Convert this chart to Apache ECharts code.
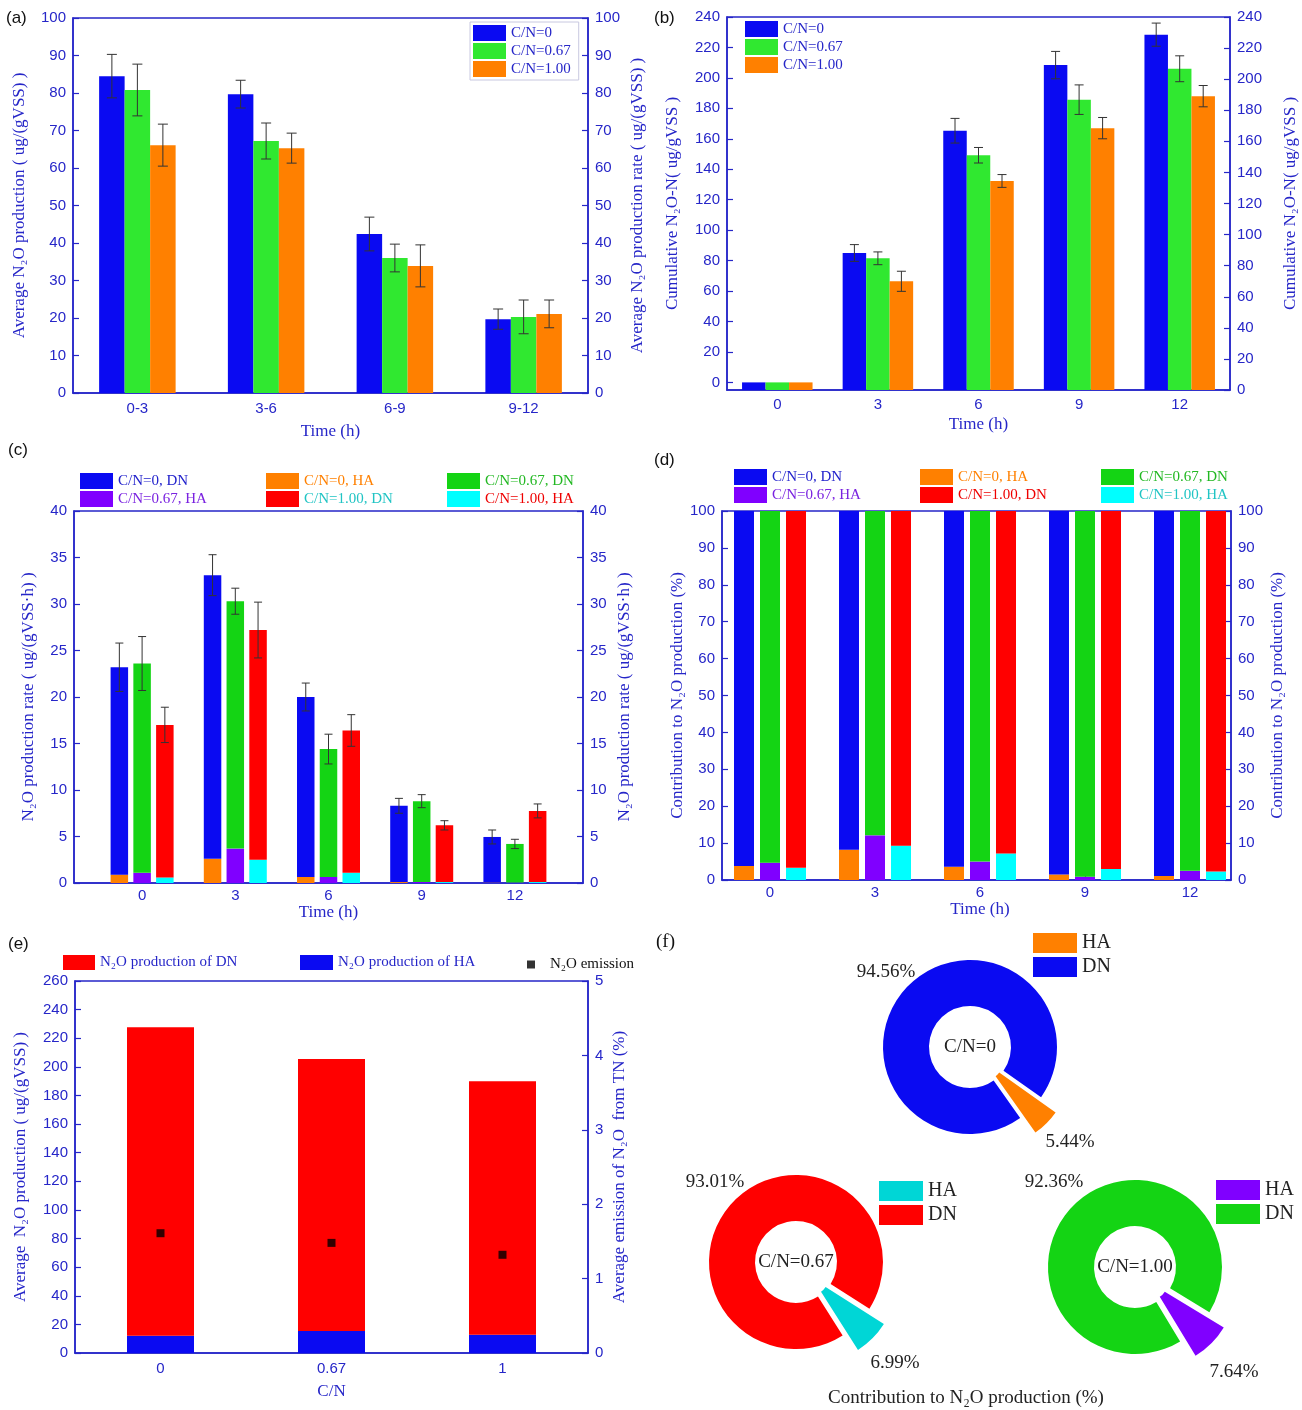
<!DOCTYPE html>
<html><head><meta charset="utf-8">
<script src="https://cdn.jsdelivr.net/npm/echarts@6/dist/echarts.min.js"></script>
<style>html,body{margin:0;padding:0;background:#fff}#c{width:1302px;height:1410px}</style>
</head><body><div id="c"></div><script>
// ---------------- DATA ----------------
// (a) average N2O production per period
const periodsA = ['0-3', '3-6', '6-9', '9-12'];
const groupNames = ['C/N=0', 'C/N=0.67', 'C/N=1.00'];
const avgA_cn0 = [84.5, 79.7, 42.4, 19.7];
const avgA_cn067 = [80.8, 67.2, 36.0, 20.3];
const avgA_cn1 = [66.1, 65.3, 33.9, 21.1];
const errA_cn0 = [5.8, 3.7, 4.5, 2.7];
const errA_cn067 = [6.9, 4.8, 3.7, 4.5];
const errA_cn1 = [5.6, 4.0, 5.6, 3.7];
// (b) cumulative N2O-N
const timesB = ['0', '3', '6', '9', '12'];
const cumB_cn0 = [0, 85.0, 165.3, 208.4, 228.4];
const cumB_cn067 = [0, 81.5, 149.2, 185.7, 206.0];
const cumB_cn1 = [0, 66.4, 132.3, 167.0, 188.0];
const errB_cn0 = [0, 5.5, 8.1, 9.0, 7.6];
const errB_cn067 = [0, 4.2, 5.1, 9.7, 8.5];
const errB_cn1 = [0, 6.6, 4.2, 7.0, 7.0];
// (c) N2O production rate, split HA / DN
const timesCD = ['0', '3', '6', '9', '12'];
const rateHA_cn0 = [0.9, 2.6, 0.65, 0.1, 0.05];
const rateDN_cn0 = [22.3, 30.5, 19.35, 8.2, 4.9];
const rateHA_cn067 = [1.1, 3.7, 0.65, 0.1, 0.05];
const rateDN_cn067 = [22.5, 26.6, 13.75, 8.7, 4.15];
const rateHA_cn1 = [0.6, 2.5, 1.1, 0.1, 0.1];
const rateDN_cn1 = [16.4, 24.7, 15.3, 6.1, 7.65];
const rateErr_cn0 = [2.6, 2.2, 1.5, 0.8, 0.75];
const rateErr_cn067 = [2.9, 1.4, 1.6, 0.7, 0.5];
const rateErr_cn1 = [1.9, 3.0, 1.7, 0.5, 0.75];
// (d) contribution (%)
const pctHA_cn0 = [3.8, 8.2, 3.6, 1.5, 1.1];
const pctDN_cn0 = [96.2, 91.8, 96.4, 98.5, 98.9];
const pctHA_cn067 = [4.7, 12.1, 5.0, 0.9, 2.5];
const pctDN_cn067 = [95.3, 87.9, 95.0, 99.1, 97.5];
const pctHA_cn1 = [3.3, 9.3, 7.2, 3.0, 2.3];
const pctDN_cn1 = [96.7, 90.7, 92.8, 97.0, 97.7];
// (e) average production and emission
const ratiosE = ['0', '0.67', '1'];
const prodHA_E = [12.1, 15.4, 12.8];
const prodDN_E = [215.5, 190.1, 177.2];
const emissionE = [1.61, 1.48, 1.32];
// (f) contribution pies
const pieLabels = ['C/N=0', 'C/N=0.67', 'C/N=1.00'];
const pieDN = [94.56, 93.01, 92.36];
const pieHA = [5.44, 6.99, 7.64];

// ---------------- STYLE ----------------
const AX = '#2626c8';
const SERIF = '"Liberation Serif","Times New Roman",serif';
const SANS = '"Liberation Sans",Arial,sans-serif';
const COL = {blue:'#0a0af2', greenA:'#30e830', green:'#14d414', orange:'#ff8000', red:'#ff0000',
  cyan:'#00ffff', purple:'#8000ff', pieCyan:'#00d6d6'};

function grid(l, t, w, h, show) {
  return {left:l, top:t, width:w, height:h, show:show !== false, borderColor:AX, borderWidth:1.5, containLabel:false};
}
function axBase(extra) {
  return Object.assign({
    axisLine:{show:true, onZero:false, lineStyle:{color:AX, width:1.5}},
    axisTick:{show:true, inside:true, length:6, lineStyle:{color:AX, width:1.2}},
    axisLabel:{color:AX, fontFamily:SANS, fontSize:15, margin:7},
    splitLine:{show:false},
    nameLocation:'middle',
    nameTextStyle:{color:AX, fontFamily:SERIF, fontSize:17}
  }, extra);
}
function yAx(gi, pos, min, max, interval, name, gap, extra) {
  return axBase(Object.assign({type:'value', gridIndex:gi, position:pos, min:min, max:max, interval:interval, name:name, nameGap:gap}, extra || {}));
}
function catX(gi, data, name, gap, labelMargin, noLine) {
  const a = axBase({type:'category', gridIndex:gi, data:data, name:name, nameGap:gap});
  a.axisTick = {show:true, inside:true, alignWithLabel:true, length:6, lineStyle:{color:AX, width:1.2}};
  a.axisLabel = {color:AX, fontFamily:SANS, fontSize:15, margin:labelMargin};
  if (noLine) a.axisLine = {show:false};
  return a;
}
function frameX(gi, data) {
  return {type:'category', gridIndex:gi, data:data, axisLine:{show:true, lineStyle:{color:AX, width:1.5}},
    axisTick:{show:false}, axisLabel:{show:false}, splitLine:{show:false}};
}
function hiddenY(gi, min, max) {
  return {type:'value', gridIndex:gi, min:min, max:max, show:false, splitLine:{show:false}};
}
function bar(name, xi, yi, data, color, w, gap, stack) {
  const s = {type:'bar', name:name, xAxisIndex:xi, yAxisIndex:yi, data:data, barWidth:w, barGap:gap,
    itemStyle:{color:color}, silent:true, z:2};
  if (stack) s.stack = stack;
  return s;
}
function errSeries(xi, yi, xs, tops, errs, off, cap) {
  return {type:'custom', xAxisIndex:xi, yAxisIndex:yi, z:5, silent:true,
    data: tops.map((v, i) => [xs[i], v, errs[i]]),
    encode:{x:0, y:1},
    renderItem: function (p, api) {
      const x = api.value(0), v = api.value(1), e = api.value(2);
      if (!e) return null;
      const a = api.coord([x, v + e]), b = api.coord([x, v - e]);
      const cx = a[0] + off;
      const st = {stroke:'#333', lineWidth:1};
      return {type:'group', children:[
        {type:'line', shape:{x1:cx, y1:a[1], x2:cx, y2:b[1]}, style:st},
        {type:'line', shape:{x1:cx - cap / 2, y1:a[1], x2:cx + cap / 2, y2:a[1]}, style:st},
        {type:'line', shape:{x1:cx - cap / 2, y1:b[1], x2:cx + cap / 2, y2:b[1]}, style:st}
      ]};
    }
  };
}
function sum(a, b) { return a.map((v, i) => v + b[i]); }
function legendBox(left, top, items, opt) {
  return Object.assign({
    left:left, top:top, orient:'vertical', icon:'rect', itemWidth:33, itemHeight:16, itemGap:2,
    padding:3, selectedMode:false,
    textStyle:{color:AX, fontFamily:SERIF, fontSize:15},
    data:items
  }, opt || {});
}

// ---------------- GRIDS & AXES ----------------
const grids = [
  grid(73, 18, 515, 375),          // 0: a
  grid(727, 17, 503, 373),         // 1: b
  grid(74, 511, 509, 372),         // 2: c frame
  grid(722, 511, 509, 369),        // 3: d frame
  grid(75, 981, 513, 372),         // 4: e
  grid(95.5, 511, 466, 372, false),  // 5: c data
  grid(717.5, 511, 525, 369, false)  // 6: d data
];
const xAxes = [
  catX(0, periodsA, 'Time (h)', 30, 8),
  catX(1, timesB, 'Time (h)', 26, 7),
  frameX(2, timesCD),
  frameX(3, timesCD),
  catX(4, ratiosE, 'C/N', 30, 8),
  catX(5, timesCD, 'Time (h)', 16, 5, true),
  catX(6, timesCD, 'Time (h)', 19, 5, true)
];
const ticksB = [0, 20, 40, 60, 80, 100, 120, 140, 160, 180, 200, 220, 240];
const yAxes = [
  yAx(0, 'left', 0, 100, 10, 'Average N\u2082O production ( ug/(gVSS) )', 45),
  yAx(0, 'right', 0, 100, 10, 'Average N\u2082O production rate ( ug/(gVSS) )', 41),
  yAx(1, 'left', -5, 240, null, 'Cumulative N\u2082O-N( ug/gVSS )', 46, {
    startValue:-5,
    axisTick:{show:true, inside:true, length:6, customValues:ticksB, lineStyle:{color:AX, width:1.2}},
    axisLabel:{color:AX, fontFamily:SANS, fontSize:15, margin:7, customValues:ticksB}}),
  yAx(1, 'right', 0, 240, 20, 'Cumulative N\u2082O-N( ug/gVSS )', 52),
  yAx(2, 'left', 0, 40, 5, 'N\u2082O production rate ( ug/(gVSS\u00b7h) )', 37),
  yAx(2, 'right', 0, 40, 5, 'N\u2082O production rate ( ug/(gVSS\u00b7h) )', 33),
  yAx(3, 'left', 0, 100, 10, 'Contribution to N\u2082O production (%)', 33),
  yAx(3, 'right', 0, 100, 10, 'Contribution to N\u2082O production (%)', 38),
  yAx(4, 'left', 0, 260, 20, 'Average  N\u2082O production ( ug/(gVSS) )', 46),
  yAx(4, 'right', 0, 5, 1, 'Average emission of N\u2082O  from TN (%)', 23),
  hiddenY(5, 0, 40),    // 10: c data
  hiddenY(6, 0, 100)    // 11: d data
];

// ---------------- SERIES ----------------
const series = [];
// (a)
const wA = 25.5;
series.push(bar('C/N=0', 0, 0, avgA_cn0, COL.blue, wA, '0%'));
series.push(bar('C/N=0.67', 0, 0, avgA_cn067, COL.greenA, wA, '0%'));
series.push(bar('C/N=1.00', 0, 0, avgA_cn1, COL.orange, wA, '0%'));
const idxA = periodsA.map((_, i) => i);
series.push(errSeries(0, 0, idxA, avgA_cn0, errA_cn0, -wA, 10));
series.push(errSeries(0, 0, idxA, avgA_cn067, errA_cn067, 0, 10));
series.push(errSeries(0, 0, idxA, avgA_cn1, errA_cn1, wA, 10));
// (b)
const wB = 23.5;
series.push(bar('C/N=0', 1, 2, cumB_cn0, COL.blue, wB, '0%'));
series.push(bar('C/N=0.67', 1, 2, cumB_cn067, COL.greenA, wB, '0%'));
series.push(bar('C/N=1.00', 1, 2, cumB_cn1, COL.orange, wB, '0%'));
const idxB = timesB.map((_, i) => i);
series.push(errSeries(1, 2, idxB, cumB_cn0, errB_cn0, -wB, 9));
series.push(errSeries(1, 2, idxB, cumB_cn067, errB_cn067, 0, 9));
series.push(errSeries(1, 2, idxB, cumB_cn1, errB_cn1, wB, 9));
// (c)
const wC = 17.5, gC = '30%', stepC = wC * 1.3;
const idxCD = timesCD.map((_, i) => i);
series.push(bar('C/N=0, HA', 5, 10, rateHA_cn0, COL.orange, wC, gC, 'c0'));
series.push(bar('C/N=0, DN', 5, 10, rateDN_cn0, COL.blue, wC, gC, 'c0'));
series.push(bar('C/N=0.67, HA', 5, 10, rateHA_cn067, COL.purple, wC, gC, 'c1'));
series.push(bar('C/N=0.67, DN', 5, 10, rateDN_cn067, COL.green, wC, gC, 'c1'));
series.push(bar('C/N=1.00, HA', 5, 10, rateHA_cn1, COL.cyan, wC, gC, 'c2'));
series.push(bar('C/N=1.00, DN', 5, 10, rateDN_cn1, COL.red, wC, gC, 'c2'));
series.push(errSeries(5, 10, idxCD, sum(rateHA_cn0, rateDN_cn0), rateErr_cn0, -stepC, 8));
series.push(errSeries(5, 10, idxCD, sum(rateHA_cn067, rateDN_cn067), rateErr_cn067, 0, 8));
series.push(errSeries(5, 10, idxCD, sum(rateHA_cn1, rateDN_cn1), rateErr_cn1, stepC, 8));
// (d)
const wD = 20, gD = '30%';
series.push(bar('C/N=0, HA', 6, 11, pctHA_cn0, COL.orange, wD, gD, 'd0'));
series.push(bar('C/N=0, DN', 6, 11, pctDN_cn0, COL.blue, wD, gD, 'd0'));
series.push(bar('C/N=0.67, HA', 6, 11, pctHA_cn067, COL.purple, wD, gD, 'd1'));
series.push(bar('C/N=0.67, DN', 6, 11, pctDN_cn067, COL.green, wD, gD, 'd1'));
series.push(bar('C/N=1.00, HA', 6, 11, pctHA_cn1, COL.cyan, wD, gD, 'd2'));
series.push(bar('C/N=1.00, DN', 6, 11, pctDN_cn1, COL.red, wD, gD, 'd2'));
// (e)
series.push(bar('N\u2082O production of HA', 4, 8, prodHA_E, COL.blue, 67, '0%', 'e'));
series.push(bar('N\u2082O production of DN', 4, 8, prodDN_E, COL.red, 67, '0%', 'e'));
series.push({type:'scatter', name:'N\u2082O emission', xAxisIndex:4, yAxisIndex:9, data:emissionE,
  symbol:'rect', symbolSize:8, itemStyle:{color:'#000'}, silent:true, z:6});
// (f) pies
const pieCenters = [[970, 1047], [796, 1262], [1135, 1267]];
const pieColors = [[COL.blue, COL.orange], [COL.red, COL.pieCyan], [COL.green, COL.purple]];
const TR = 'rgba(0,0,0,0)';
pieDN.forEach((dn, i) => {
  const ha = pieHA[i];
  const start = 360 - (45 + (ha / (dn + ha)) * 180); // HA wedge pointing lower-right
  const common = {type:'pie', center:pieCenters[i], startAngle:start, clockwise:true, silent:true,
    label:{show:false}, labelLine:{show:false}, emphasis:{disabled:true}, animation:false};
  series.push(Object.assign({}, common, {name:'ring' + i, radius:[41, 87],
    data:[{name:'DN', value:dn, itemStyle:{color:pieColors[i][0]}},
          {name:'HA', value:ha, itemStyle:{color:TR}}]}));
  series.push(Object.assign({}, common, {name:'wedge' + i, radius:[15, 84], selectedMode:'single', selectedOffset:24,
    data:[{name:'DN', value:dn, itemStyle:{color:TR}},
          {name:'HA', value:ha, selected:true, itemStyle:{color:pieColors[i][1]}}]}));
});

// ---------------- LEGENDS ----------------
const legends = [
  legendBox(470, 22, groupNames, {borderColor:'#c8c8e0', borderWidth:1, padding:[3, 8, 3, 3]}),
  legendBox(742, 18, groupNames),
  // (c)
  legendBox(77, 470, [{name:'C/N=0, DN', textStyle:{color:'#2222cc'}}, {name:'C/N=0.67, HA', textStyle:{color:'#7a22e0'}}]),
  legendBox(263, 470, [{name:'C/N=0, HA', textStyle:{color:'#ff8000'}}, {name:'C/N=1.00, DN', textStyle:{color:'#20c4c4'}}]),
  legendBox(444, 470, [{name:'C/N=0.67, DN', textStyle:{color:'#22b822'}}, {name:'C/N=1.00, HA', textStyle:{color:'#ee0000'}}]),
  // (d)
  legendBox(731, 466, [{name:'C/N=0, DN', textStyle:{color:'#2222cc'}}, {name:'C/N=0.67, HA', textStyle:{color:'#7a22e0'}}]),
  legendBox(917, 466, [{name:'C/N=0, HA', textStyle:{color:'#ff8000'}}, {name:'C/N=1.00, DN', textStyle:{color:'#ee0000'}}]),
  legendBox(1098, 466, [{name:'C/N=0.67, DN', textStyle:{color:'#22b822'}}, {name:'C/N=1.00, HA', textStyle:{color:'#20c4c4'}}]),
  // (e)
  legendBox(60, 952, ['N\u2082O production of DN'], {itemWidth:32, itemHeight:15}),
  legendBox(297, 952, ['N\u2082O production of HA'], {itemWidth:33, itemHeight:15}),
  legendBox(524, 954, ['N\u2082O emission'], {itemWidth:8, itemHeight:8,
    textStyle:{color:'#111', fontFamily:SERIF, fontSize:15, padding:[0, 0, 0, 10]}})
];
const pieLegendPos = [[1030, 930], [876, 1178], [1213, 1177]];
pieLegendPos.forEach((p, i) => {
  legends.push(legendBox(p[0], p[1], [
    {name:'HA', itemStyle:{color:pieColors[i][1]}},
    {name:'DN', itemStyle:{color:pieColors[i][0]}}
  ], {itemWidth:44, itemHeight:20, itemGap:4, textStyle:{color:'#222', fontFamily:SERIF, fontSize:20}}));
});

// ---------------- TEXT ----------------
function txt(x, y, s, font, fill, align) {
  return {type:'text', x:x, y:y, silent:true,
    style:{text:s, font:font, fill:fill || '#111', align:align || 'left', verticalAlign:'middle'}};
}
const PL = '17px ' + SANS;
const PF = '19px ' + SERIF;
const pieTxtPos = [[[886, 972], [1070, 1142]], [[715, 1182], [895, 1363]], [[1054, 1182], [1234, 1372]]];
const graphics = [
  txt(6, 18, '(a)', PL), txt(654, 18, '(b)', PL), txt(8, 450, '(c)', PL),
  txt(654, 460, '(d)', PL), txt(8, 944, '(e)', PL), txt(656, 942, '(f)', PF),
  txt(966, 1398, 'Contribution to N\u2082O production (%)', PF, '#222', 'center')
];
pieLabels.forEach((lab, i) => {
  graphics.push(txt(pieCenters[i][0], pieCenters[i][1], lab, PF, '#222', 'center'));
  graphics.push(txt(pieTxtPos[i][0][0], pieTxtPos[i][0][1], pieDN[i].toFixed(2) + '%', PF, '#222', 'center'));
  graphics.push(txt(pieTxtPos[i][1][0], pieTxtPos[i][1][1], pieHA[i].toFixed(2) + '%', PF, '#222', 'center'));
});

const chart = echarts.init(document.getElementById('c'), null, {renderer:'canvas'});
chart.setOption({
  animation:false,
  backgroundColor:'#fff',
  grid:grids, xAxis:xAxes, yAxis:yAxes, series:series, legend:legends, graphic:graphics
});
</script></body></html>
